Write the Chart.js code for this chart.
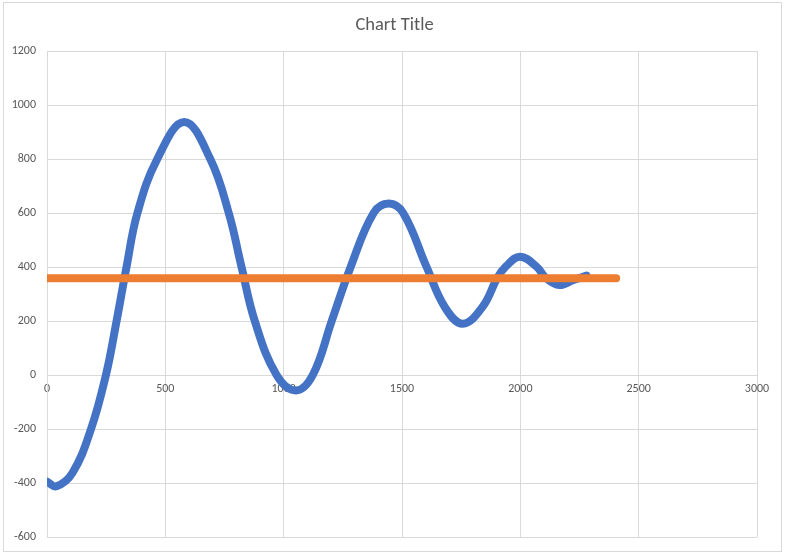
<!DOCTYPE html>
<html>
<head>
<meta charset="utf-8">
<script src="https://cdn.jsdelivr.net/npm/chart.js@4/dist/chart.umd.min.js"></script>
<style>
  html, body { margin: 0; padding: 0; background: #ffffff; }
  #wrap { width: 789px; height: 557px; }
</style>
</head>
<body>
<div id="wrap"><canvas id="chart" width="789" height="557"></canvas></div>
<script>
// Series 1: damped oscillation (turning points and steep crossings)
const series1X = [0, 40, 108, 186, 249, 294, 336, 382, 466, 580, 690, 768, 822, 878, 970, 1052,
    1123, 1203, 1283, 1380, 1444, 1505, 1604, 1682, 1757, 1841, 1903, 1940, 1999, 2070, 2107,
    2165, 2225, 2280];
const series1Y = [-395, -412, -362, -200, 0, 200, 400, 600, 800, 937, 800, 600, 400, 200, 0, -57,
    0, 200, 400, 600, 635, 600, 400, 250, 190, 253, 360, 403, 438, 400, 360,
    333, 352, 368];

// Series 2: flat line
const series2X = [0, 2405];
const series2Y = [358, 358];

const xTicks = { min: 0, max: 3000, step: 500 };
const yTicks = { min: -600, max: 1200, step: 200 };

const chartTitle = 'Chart Title';

// Helper to zip x/y arrays into {x, y} points
function toPoints(xs, ys) {
    return xs.map((x, i) => ({ x: x, y: ys[i] }));
}

const textColor = '#595959';
const gridColor = '#d9d9d9';
const fontFamily = 'Calibri, Carlito, "Liberation Sans", Arial, sans-serif';

// Light border round the chart object, like the Excel chart frame
const framePlugin = {
    id: 'frame',
    beforeDraw(chart) {
        const ctx = chart.ctx;
        ctx.save();
        ctx.fillStyle = '#ffffff';
        ctx.fillRect(0, 0, chart.width, chart.height);
        ctx.strokeStyle = gridColor;
        ctx.lineWidth = 1;
        ctx.strokeRect(3.5, 2.5, 778, 549);
        ctx.restore();
    }
};

const ctx = document.getElementById('chart').getContext('2d');

new Chart(ctx, {
    type: 'scatter',
    data: {
        datasets: [
            {
                label: 'Series2',
                data: toPoints(series2X, series2Y),
                showLine: true,
                borderColor: '#ED7D31',
                borderWidth: 8,
                borderCapStyle: 'round',
                pointRadius: 0,
                pointHoverRadius: 0
            },
            {
                label: 'Series1',
                data: toPoints(series1X, series1Y),
                showLine: true,
                borderColor: '#4472C4',
                borderWidth: 8,
                borderCapStyle: 'round',
                borderJoinStyle: 'round',
                tension: 0.4,
                pointRadius: 0,
                pointHoverRadius: 0
            }
        ]
    },
    options: {
        responsive: false,
        animation: false,
        layout: {
            padding: { left: 0, right: 0, top: 0, bottom: 20 }
        },
        plugins: {
            legend: { display: false },
            tooltip: { enabled: false },
            title: {
                display: true,
                text: chartTitle,
                color: textColor,
                font: { family: fontFamily, size: 18.5, weight: 'normal' },
                padding: { top: 13.9, bottom: 14.9 }
            }
        },
        scales: {
            x: {
                type: 'linear',
                position: { y: 0 },
                min: xTicks.min,
                max: xTicks.max,
                ticks: {
                    stepSize: xTicks.step,
                    color: textColor,
                    font: { family: fontFamily, size: 12 },
                    padding: 7,
                    maxRotation: 0,
                    callback: (value) => String(value)
                },
                grid: { color: gridColor, drawTicks: false },
                border: { color: gridColor }
            },
            y: {
                type: 'linear',
                min: yTicks.min,
                max: yTicks.max,
                afterFit(scale) { scale.width = 47; },
                ticks: {
                    stepSize: yTicks.step,
                    color: textColor,
                    font: { family: fontFamily, size: 12 },
                    padding: 11,
                    callback: (value) => String(value)
                },
                grid: { color: gridColor, drawTicks: false },
                border: { color: gridColor }
            },
            // empty right-hand spacer so the title stays centred on the whole frame
            yRight: {
                type: 'linear',
                position: 'right',
                afterFit(scale) { scale.width = 32; },
                ticks: { display: false },
                grid: { display: false },
                border: { display: false }
            }
        }
    },
    plugins: [framePlugin]
});
</script>
</body>
</html>
